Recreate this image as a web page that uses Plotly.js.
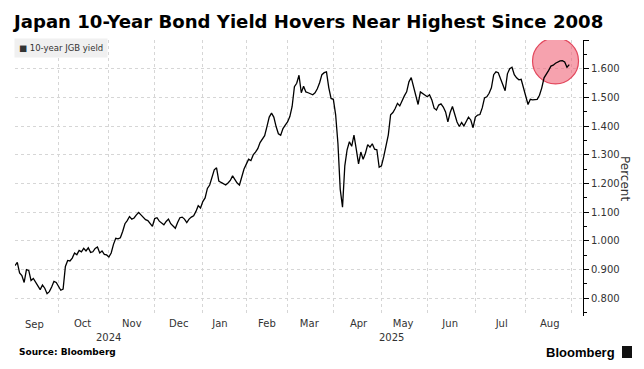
<!DOCTYPE html>
<html>
<head>
<meta charset="utf-8">
<script src="https://cdn.plot.ly/plotly-3.0.1.min.js"></script>
<style>html,body{margin:0;padding:0;background:#fff;}#chart{width:644px;height:369px;}</style>
</head>
<body>
<div id="chart"></div>
<script>
// 10-year JGB yield (percent), one value per Tokyo trading day
const dates = [
"2024-09-02","2024-09-03","2024-09-04","2024-09-05","2024-09-06","2024-09-09","2024-09-10","2024-09-11","2024-09-12","2024-09-13",
"2024-09-17","2024-09-18","2024-09-19","2024-09-20","2024-09-24","2024-09-25","2024-09-26","2024-09-27","2024-09-30",
"2024-10-01","2024-10-02","2024-10-03","2024-10-04","2024-10-07","2024-10-08","2024-10-09","2024-10-10","2024-10-11","2024-10-15",
"2024-10-16","2024-10-17","2024-10-18","2024-10-21","2024-10-22","2024-10-23","2024-10-24","2024-10-25","2024-10-28","2024-10-29",
"2024-10-30","2024-10-31",
"2024-11-01","2024-11-05","2024-11-06","2024-11-07","2024-11-08","2024-11-11","2024-11-12","2024-11-13","2024-11-14","2024-11-15",
"2024-11-18","2024-11-19","2024-11-20","2024-11-21","2024-11-22","2024-11-25","2024-11-26","2024-11-27","2024-11-28","2024-11-29",
"2024-12-02","2024-12-03","2024-12-04","2024-12-05","2024-12-06","2024-12-09","2024-12-10","2024-12-11","2024-12-12","2024-12-13",
"2024-12-16","2024-12-17","2024-12-18","2024-12-19","2024-12-20","2024-12-23","2024-12-24","2024-12-25","2024-12-26","2024-12-27",
"2024-12-30",
"2025-01-06","2025-01-07","2025-01-08","2025-01-09","2025-01-10","2025-01-14","2025-01-15","2025-01-16","2025-01-17","2025-01-20",
"2025-01-21","2025-01-22","2025-01-23","2025-01-24","2025-01-27","2025-01-28","2025-01-29","2025-01-30","2025-01-31",
"2025-02-03","2025-02-04","2025-02-05","2025-02-06","2025-02-07","2025-02-10","2025-02-12","2025-02-13","2025-02-14","2025-02-17",
"2025-02-18","2025-02-19","2025-02-20","2025-02-21","2025-02-25","2025-02-26","2025-02-27","2025-02-28",
"2025-03-03","2025-03-04","2025-03-05","2025-03-06","2025-03-07","2025-03-10","2025-03-11","2025-03-12","2025-03-13","2025-03-14",
"2025-03-17","2025-03-18","2025-03-19","2025-03-21","2025-03-24","2025-03-25","2025-03-26","2025-03-27","2025-03-28","2025-03-31",
"2025-04-01","2025-04-02","2025-04-03","2025-04-04","2025-04-07","2025-04-08","2025-04-09","2025-04-10","2025-04-11","2025-04-14",
"2025-04-15","2025-04-16","2025-04-17","2025-04-18","2025-04-21","2025-04-22","2025-04-23","2025-04-24","2025-04-25","2025-04-28",
"2025-04-30",
"2025-05-01","2025-05-02","2025-05-07","2025-05-08","2025-05-09","2025-05-12","2025-05-13","2025-05-14","2025-05-15","2025-05-16",
"2025-05-19","2025-05-20","2025-05-21","2025-05-22","2025-05-23","2025-05-26","2025-05-27","2025-05-28","2025-05-29","2025-05-30",
"2025-06-02","2025-06-03","2025-06-04","2025-06-05","2025-06-06","2025-06-09","2025-06-10","2025-06-11","2025-06-12","2025-06-13",
"2025-06-16","2025-06-17","2025-06-18","2025-06-19","2025-06-20","2025-06-23","2025-06-24","2025-06-25","2025-06-26","2025-06-27",
"2025-06-30",
"2025-07-01","2025-07-02","2025-07-03","2025-07-04","2025-07-07","2025-07-08","2025-07-09","2025-07-10","2025-07-11","2025-07-14",
"2025-07-15","2025-07-16","2025-07-17","2025-07-18","2025-07-22","2025-07-23","2025-07-24","2025-07-25","2025-07-28","2025-07-29",
"2025-07-30","2025-07-31",
"2025-08-01","2025-08-04","2025-08-05","2025-08-06","2025-08-07","2025-08-08","2025-08-12","2025-08-13","2025-08-14","2025-08-15",
"2025-08-18","2025-08-19","2025-08-20","2025-08-21","2025-08-22","2025-08-25","2025-08-26","2025-08-27","2025-08-28","2025-08-29"
];
const yields = [
0.914,0.925,0.888,0.879,0.855,0.900,0.897,0.862,0.869,0.855,
0.839,0.830,0.846,0.835,0.816,0.823,0.839,0.859,0.855,
0.841,0.828,0.832,0.911,0.932,0.930,0.940,0.958,0.952,0.967,
0.962,0.974,0.965,0.976,0.960,0.962,0.974,0.979,0.958,0.965,
0.953,0.951,
0.944,0.958,0.988,1.009,1.007,1.011,1.033,1.060,1.071,1.085,
1.076,1.080,1.091,1.099,1.091,1.081,1.074,1.071,1.060,1.051,
1.078,1.081,1.069,1.064,1.056,1.068,1.076,1.060,1.051,1.044,
1.064,1.081,1.083,1.076,1.064,1.076,1.083,1.088,1.103,1.123,
1.115,
1.137,1.150,1.183,1.195,1.220,1.248,1.255,1.209,1.204,1.199,
1.195,1.202,1.211,1.227,1.213,1.202,1.195,1.225,1.251,
1.268,1.285,1.280,1.300,1.310,1.322,1.343,1.357,1.367,1.399,
1.432,1.446,1.432,1.399,1.374,1.369,1.392,1.404,
1.415,1.434,1.469,1.538,1.550,1.578,1.517,1.540,1.520,1.517,
1.514,1.510,1.517,1.531,1.552,1.580,1.587,1.590,1.535,1.497,
1.494,1.440,1.340,1.180,1.118,1.262,1.318,1.346,1.330,1.369,
1.320,1.269,1.310,1.285,1.306,1.336,1.327,1.339,1.320,1.318,
1.257,
1.262,1.294,1.327,1.370,1.440,1.448,1.462,1.480,1.471,1.492,
1.506,1.520,1.555,1.570,1.535,1.510,1.476,1.520,1.515,1.510,
1.503,1.510,1.492,1.463,1.457,1.474,1.478,1.467,1.450,1.415,
1.448,1.469,1.441,1.415,1.399,1.413,1.401,1.415,1.432,1.422,
1.395,
1.432,1.439,1.441,1.464,1.499,1.503,1.515,1.534,1.580,1.590,
1.587,1.564,1.545,1.524,1.583,1.601,1.606,1.580,1.569,1.562,
1.564,1.536,
1.510,1.476,1.494,1.492,1.493,1.494,1.508,1.534,1.569,1.580,
1.595,1.610,1.613,1.620,1.624,1.628,1.629,1.624,1.606,1.615
];
// Tokyo market holidays inside the period (non-trading days hidden on the time axis)
const marketHolidays = [
"2024-09-16","2024-09-23","2024-10-14","2024-11-04","2024-12-31","2025-01-01","2025-01-02","2025-01-03",
"2025-01-13","2025-02-11","2025-02-24","2025-03-20","2025-04-29","2025-05-05","2025-05-06","2025-07-21","2025-08-11"
];
const yTickVals = [0.8,0.9,1.0,1.1,1.2,1.3,1.4,1.5,1.6,1.7];
const yTickText = ["0.800","0.900","1.000","1.100","1.200","1.300","1.400","1.500","1.600",""];
const seriesName = "10-year JGB yield";
const titleText = "Japan 10-Year Bond Yield Hovers Near Highest Since 2008";
const yearLabels = ["2024","2025"];
const firstMonthLabel = "Sep";   // partial first month, label not produced by the period axis

const tickFont = {family:"DejaVu Sans, Verdana, sans-serif", size:10, color:"#333"};
const grid = "#d6d6d6";

const trace = {
  x: dates, y: yields, type:"scatter", mode:"lines", name: seriesName,
  line:{color:"#000", width:1.3}, hoverinfo:"skip", showlegend:false
};

const layout = {
  width:644, height:369,
  margin:{l:15, r:61, t:40, b:53},
  paper_bgcolor:"#fff", plot_bgcolor:"#fff",
  title:{text:titleText, x:14/644, xanchor:"left", xref:"container", y:1-22/369, yanchor:"middle", yref:"container",
         font:{family:"DejaVu Sans, sans-serif", size:18.1, weight:"bold", color:"#000"}},
  xaxis:{type:"date", range:["2024-09-02","2025-09-08"],
         rangebreaks:[{bounds:["sat","mon"]},{values:marketHolidays}],
         dtick:"M1", tick0:"2024-09-01",
         tickformat:"%b", ticklabelmode:"period", showgrid:true, gridcolor:grid, griddash:"dot", gridwidth:1,
         zeroline:false, showline:false, ticks:"", tickfont:tickFont, fixedrange:true},
  yaxis:{side:"right", range:[0.738,1.701], tickvals:yTickVals, ticktext:yTickText,
         showline:true, linecolor:"#000", linewidth:1, ticks:"outside", ticklen:5, tickcolor:"#000", tickwidth:1,
         minor:{dtick:0.05, tick0:0, ticks:"outside", ticklen:3, tickcolor:"#000", showgrid:false},
         showgrid:true, gridcolor:grid, griddash:"dot", gridwidth:1, zeroline:false, tickfont:tickFont, fixedrange:true},
  shapes:[
    {type:"circle", layer:"between", xref:"x", yref:"y", xsizemode:"pixel", ysizemode:"pixel",
     xanchor:"2025-08-21", yanchor:1.628, x0:-23, x1:23, y0:-23, y1:23,
     fillcolor:"rgba(240,100,120,0.6)", line:{color:"#e2475c", width:1.2}},
    {type:"rect", xref:"paper", yref:"paper", x0:(622-15)/568, x1:(632-15)/568, y0:(316-358)/276, y1:(316-346)/276,
     fillcolor:"#111", line:{width:0}}
  ],
  annotations:[
    {text:"■ "+seriesName, xref:"paper", yref:"paper", x:(14-15)/568, y:(316-38)/276, xanchor:"left", yanchor:"top",
     showarrow:false, bgcolor:"#f0f0f0", borderpad:4, font:{family:"DejaVu Sans, sans-serif", size:8.5, color:"#333"}},
    {text:firstMonthLabel, xref:"paper", yref:"paper", x:(34-15)/568, y:(316-324.5)/276, xanchor:"center", yanchor:"middle",
     showarrow:false, font:tickFont},
    {text:yearLabels[0], xref:"paper", yref:"paper", x:(108-15)/568, y:(316-337)/276, xanchor:"center", yanchor:"middle",
     showarrow:false, font:tickFont},
    {text:yearLabels[1], xref:"paper", yref:"paper", x:(392-15)/568, y:(316-337)/276, xanchor:"center", yanchor:"middle",
     showarrow:false, font:tickFont},
    {text:"Percent", xref:"paper", yref:"paper", x:(625-15)/568, y:0.5, xanchor:"center", yanchor:"middle", textangle:90,
     showarrow:false, font:{family:"DejaVu Sans, sans-serif", size:12, color:"#333"}},
    {text:"<b>Source: Bloomberg</b>", xref:"paper", yref:"paper", x:(17-15)/568, y:(316-352)/276, xanchor:"left", yanchor:"middle",
     showarrow:false, font:{family:"DejaVu Sans, sans-serif", size:9, color:"#000"}},
    {text:"<b>Bloomberg</b>", xref:"paper", yref:"paper", x:(617-15)/568, y:(316-352)/276, xanchor:"right", yanchor:"middle",
     showarrow:false, font:{family:"Liberation Sans, Arial, sans-serif", size:13, color:"#000"}}
  ]
};

Plotly.newPlot("chart", [trace], layout, {staticPlot:true, displayModeBar:false});
</script>
</body>
</html>
